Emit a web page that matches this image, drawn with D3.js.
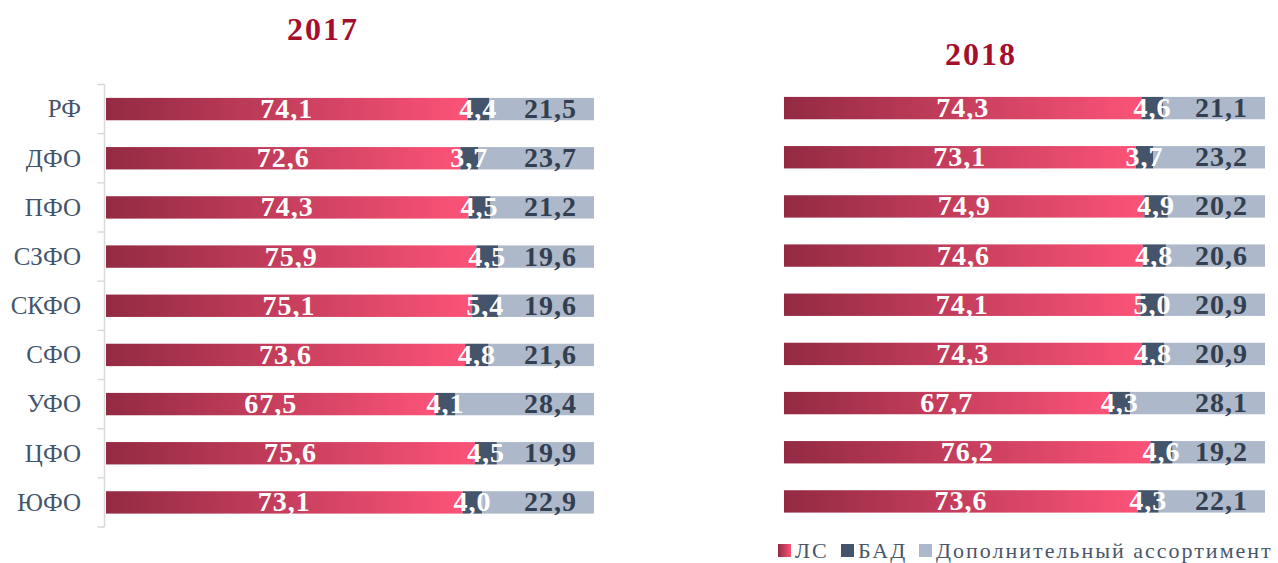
<!DOCTYPE html>
<html>
<head>
<meta charset="utf-8">
<script src="https://cdn.jsdelivr.net/npm/d3@7/dist/d3.min.js"></script>
<style>
  body { margin: 0; background: #fff; }
  svg text { font-family: "Liberation Serif", "DejaVu Serif", serif; }
</style>
</head>
<body>
<div id="chart"></div>
<script>
// regions (rows), same order in both years
var regions = ["РФ", "ДФО", "ПФО", "СЗФО", "СКФО", "СФО", "УФО", "ЦФО", "ЮФО"];
var seriesNames = ["ЛС", "БАД", "Дополнительный ассортимент"];
var years = ["2017", "2018"];

// shares, %
var ls2017  = [74.1, 72.6, 74.3, 75.9, 75.1, 73.6, 67.5, 75.6, 73.1];
var bad2017 = [4.4, 3.7, 4.5, 4.5, 5.4, 4.8, 4.1, 4.5, 4.0];
var dop2017 = [21.5, 23.7, 21.2, 19.6, 19.6, 21.6, 28.4, 19.9, 22.9];

var ls2018  = [74.3, 73.1, 74.9, 74.6, 74.1, 74.3, 67.7, 76.2, 73.6];
var bad2018 = [4.6, 3.7, 4.9, 4.8, 5.0, 4.8, 4.3, 4.6, 4.3];
var dop2018 = [21.1, 23.2, 20.2, 20.6, 20.9, 20.9, 28.1, 19.2, 22.1];

var w = 1278, h = 563;

var svg = d3.select("#chart")
  .append("svg")
  .attr("width", w)
  .attr("height", h);

var defs = svg.append("defs");
var grad = defs.append("linearGradient")
  .attr("id", "lsGrad")
  .attr("x1", "0").attr("x2", "1").attr("y1", "0").attr("y2", "0");
grad.append("stop").attr("offset", "0").attr("stop-color", "#932a43");
grad.append("stop").attr("offset", "1").attr("stop-color", "#fb5378");

var fills = ["url(#lsGrad)", "#44546a", "#adb9ca"];

function buildRows(ls, bad, dop) {
  return regions.map(function(r, i) {
    return { region: r, "ЛС": ls[i], "БАД": bad[i], "Дополнительный ассортимент": dop[i] };
  });
}

var panels = [
  { year: "2017", rows: buildRows(ls2017, bad2017, dop2017),
    x0: 106, x1: 594, y0: 84.5, y1: 527, titleX: 323, titleY: 40, axis: true },
  { year: "2018", rows: buildRows(ls2018, bad2018, dop2018),
    x0: 784, x1: 1265, y0: 83.5, y1: 526, titleX: 981, titleY: 65, axis: false }
];

var stack = d3.stack()
  .keys(seriesNames)
  .offset(d3.stackOffsetExpand);

panels.forEach(function(p) {
  var g = svg.append("g");

  var x = d3.scaleLinear().domain([0, 1]).range([p.x0, p.x1]);
  var y = d3.scaleBand()
    .domain(regions)
    .range([p.y0, p.y1])
    .paddingInner(0.545)
    .paddingOuter(0.2725);

  g.append("text")
    .attr("x", p.titleX)
    .attr("y", p.titleY)
    .attr("text-anchor", "middle")
    .attr("font-size", 32)
    .attr("font-weight", "bold")
    .attr("letter-spacing", 2)
    .attr("fill", "#a50f2d")
    .text(p.year);

  var layers = stack(p.rows);

  layers.forEach(function(layer, k) {
    g.append("g").selectAll("rect")
      .data(layer)
      .enter()
      .append("rect")
      .attr("x", function(d) { return x(d[0]); })
      .attr("width", function(d) { return x(d[1]) - x(d[0]); })
      .attr("y", function(d) { return y(d.data.region); })
      .attr("height", y.bandwidth())
      .attr("fill", fills[k]);
  });

  // value labels
  layers.forEach(function(layer, k) {
    var key = layer.key;
    g.append("g").selectAll("text")
      .data(layer)
      .enter()
      .append("text")
      .attr("x", function(d) {
        if (k == 2) return x(d[1]) - 17;
        return (x(d[0]) + x(d[1])) / 2;
      })
      .attr("y", function(d) { return y(d.data.region) + y.bandwidth() / 2 + 9; })
      .attr("text-anchor", k == 2 ? "end" : "middle")
      .attr("font-size", 28)
      .attr("font-weight", "bold")
      .attr("letter-spacing", 1)
      .attr("fill", k == 2 ? "#333f50" : "#ffffff")
      .text(function(d) { return d3.format(".1f")(d.data[key]).replace(".", ","); });
  });

  if (p.axis) {
    var step = y.step();
    var axisX = p.x0 - 1.5;
    g.append("line")
      .attr("x1", axisX).attr("x2", axisX)
      .attr("y1", p.y0).attr("y2", p.y1)
      .attr("stroke", "#d9d9d9").attr("stroke-width", 1.5);
    var bounds = d3.range(regions.length + 1).map(function(i) { return p.y0 + i * step; });
    g.append("g").selectAll("line")
      .data(bounds)
      .enter()
      .append("line")
      .attr("x1", axisX - 7).attr("x2", axisX)
      .attr("y1", function(d) { return d; })
      .attr("y2", function(d) { return d; })
      .attr("stroke", "#d9d9d9").attr("stroke-width", 1.5);

    var yAxis = g.append("g")
      .attr("transform", "translate(" + (p.x0 - 25) + ",0)")
      .call(d3.axisLeft(y).tickSize(0).tickPadding(0));
    yAxis.select(".domain").remove();
    yAxis.selectAll("text")
      .attr("font-family", "Liberation Serif, serif")
      .attr("font-size", 25)
      .attr("fill", "#44546a")
      .attr("dy", "0.33em");
  }
});

// legend
var legend = svg.append("g");
var legendX = [778, 841, 919];
seriesNames.forEach(function(name, i) {
  legend.append("rect")
    .attr("x", legendX[i]).attr("y", 544)
    .attr("width", 13).attr("height", 13)
    .attr("fill", fills[i]);
  legend.append("text")
    .attr("x", legendX[i] + 17).attr("y", 558)
    .attr("font-size", 22)
    .attr("letter-spacing", 2)
    .attr("fill", "#4a5669")
    .text(name);
});
</script>
</body>
</html>
